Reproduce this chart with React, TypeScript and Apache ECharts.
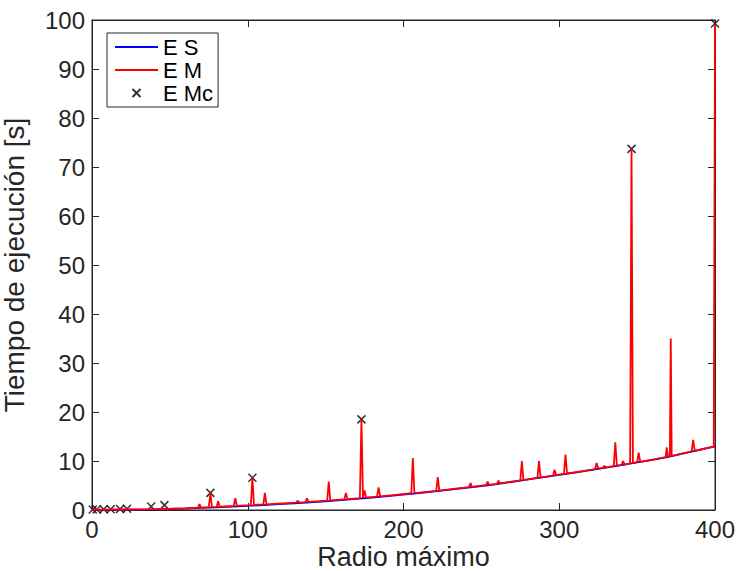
import React, { useEffect, useRef } from 'react';
import * as echarts from 'echarts';

// x-axis tick labels
const xTicks = [0, 100, 200, 300, 400];
const yTicks = [0, 10, 20, 30, 40, 50, 60, 70, 80, 90, 100];

// E S (blue, smooth curve)
const esX = [0, 10, 20, 30, 40, 50, 60, 70, 80, 90, 100, 110, 120, 130, 140, 150, 160, 170, 180, 190, 200,
  210, 220, 230, 240, 250, 260, 270, 280, 290, 300, 310, 320, 330, 340, 350, 360, 370, 380, 390, 400];
const esY = [0.02, 0.03, 0.05, 0.08, 0.12, 0.2, 0.3, 0.42, 0.55, 0.7, 0.85, 1.0, 1.18, 1.36, 1.56, 1.78, 2.02, 2.28, 2.55, 2.85, 3.15,
  3.45, 3.8, 4.15, 4.5, 4.9, 5.3, 5.75, 6.25, 6.7, 7.15, 7.65, 8.15, 8.65, 9.15, 9.7, 10.25, 10.85, 11.55, 12.25, 13.0];

// E M (red, with spikes)
const emPoints: [number, number][] = [
  [0, 0.05], [10, 0.06], [20, 0.1], [30, 0.13], [40, 0.18], [50, 0.26], [60, 0.36], [68, 0.46], [69, 1.2], [70, 0.48],
  [75, 0.56], [76, 3.5], [77, 0.58], [80, 0.63], [81, 1.8], [82, 0.66], [91, 0.82], [92, 2.4], [93, 0.84],
  [102, 1.0], [103, 6.6], [104, 1.02], [110, 1.13], [111, 3.5], [112, 1.16], [120, 1.3], [131, 1.5], [132, 1.9], [133, 1.53],
  [137, 1.62], [138, 2.4], [139, 1.64], [151, 1.92], [152, 5.8], [153, 1.95], [162, 2.17], [163, 3.5], [164, 2.22],
  [172, 2.42], [173, 18.5], [174, 2.47], [175, 4.0], [176, 2.52], [183, 2.72], [184, 4.6], [185, 2.76], [195, 3.07],
  [205, 3.42], [206, 10.6], [207, 3.46], [215, 3.72], [221, 3.92], [222, 6.7], [223, 3.97], [232, 4.3], [242, 4.67],
  [243, 5.5], [244, 4.72], [253, 5.07], [254, 5.8], [255, 5.12], [260, 5.35], [261, 6.0], [262, 5.42], [268, 5.72],
  [275, 6.05], [276, 10.0], [277, 6.1], [286, 6.55], [287, 10.0], [288, 6.6], [296, 7.0], [297, 8.2], [298, 7.1],
  [303, 7.35], [304, 11.3], [305, 7.45], [313, 7.85], [323, 8.35], [324, 9.6], [325, 8.45], [328, 8.6], [329, 9.0],
  [330, 8.7], [335, 8.95], [336, 13.8], [337, 9.0], [340, 9.2], [341, 10.0], [342, 9.25], [345.5, 9.5], [346.4, 73.7],
  [347.3, 9.55], [350, 9.75], [351, 11.7], [352, 9.8], [360, 10.3], [368.3, 10.8], [369, 12.8], [369.8, 10.9],
  [371, 10.95], [371.6, 35], [372.2, 11.0], [380, 11.6], [385, 11.95], [386, 14.3], [387, 12.05], [393, 12.5],
  [399.2, 12.95], [400, 99.3],
];

// E Mc (black x markers)
const emcPoints: [number, number][] = [
  [0.5, 0.1], [3, 0.1], [7.5, 0.15], [12, 0.15], [18, 0.2], [22.5, 0.25], [38, 0.7], [46.5, 1.0],
  [76, 3.5], [103, 6.6], [173, 18.5], [346.4, 73.7], [400, 99.3],
];

const FONT = '"Liberation Sans", Arial, Helvetica, sans-serif';
const AX = '#262626';
const X_SYMBOL = 'path://M-3,-3M0,0L8,8M8,0L0,8M11,11';
const LINE_ICON = 'path://M0,0H43V1.8H0Z';

export default function App() {
  const ref = useRef<HTMLDivElement>(null);
  useEffect(() => {
    document.body.style.margin = '0';
    const chart = echarts.init(ref.current!, null, { renderer: 'svg' });
    const axisCommon = {
      type: 'value' as const,
      axisLine: { show: true, onZero: false, lineStyle: { color: AX, width: 1 } },
      axisTick: { show: true, inside: true, length: 7, lineStyle: { color: AX, width: 1 } },
      splitLine: { show: false },
    };
    chart.setOption({
      animation: false,
      backgroundColor: '#ffffff',
      grid: {
        left: 92, right: 24, top: 20, bottom: 61,
        show: true, borderColor: AX, borderWidth: 1,
        containLabel: false, outerBoundsMode: 'none',
      },
      legend: {
        orient: 'vertical',
        left: 107,
        top: 33,
        itemWidth: 43,
        itemHeight: 14,
        itemGap: 1,
        padding: [3, 5, 3, 8],
        borderColor: AX,
        borderWidth: 1,
        backgroundColor: '#ffffff',
        textStyle: { fontSize: 22, color: '#000', fontFamily: FONT },
        data: [
          { name: 'E S', icon: LINE_ICON },
          { name: 'E M', icon: LINE_ICON },
          { name: 'E Mc' },
        ],
      },
      xAxis: [
        {
          ...axisCommon,
          min: 0, max: 400, interval: 100,
          axisLabel: { fontSize: 24, color: AX, margin: 7, fontFamily: FONT,
            formatter: (v: number) => (xTicks.includes(v) ? String(v) : '') },
          name: 'Radio máximo', nameLocation: 'middle', nameGap: 33, nameMoveOverlap: false,
          nameTextStyle: { fontSize: 27, color: AX, fontFamily: FONT },
        },
        {
          ...axisCommon, position: 'top',
          min: 0, max: 400, interval: 100,
          axisLabel: { show: false },
        },
      ],
      yAxis: [
        {
          ...axisCommon,
          min: 0, max: 100, interval: 10,
          axisLabel: { fontSize: 24, color: AX, margin: 7, fontFamily: FONT,
            formatter: (v: number) => (yTicks.includes(v) ? String(v) : '') },
          name: 'Tiempo de ejecución [s]', nameLocation: 'middle', nameGap: 64, nameMoveOverlap: false,
          nameTextStyle: { fontSize: 28, color: AX, fontFamily: FONT },
        },
        {
          ...axisCommon, position: 'right',
          min: 0, max: 100, interval: 10,
          axisLabel: { show: false },
        },
      ],
      series: [
        {
          name: 'E S', type: 'line', xAxisIndex: 0, yAxisIndex: 0,
          data: esX.map((x, i) => [x, esY[i]]),
          symbol: 'none', showSymbol: false,
          lineStyle: { color: '#0000ff', width: 1.8 },
          itemStyle: { color: '#0000ff' },
        },
        {
          name: 'E M', type: 'line', xAxisIndex: 0, yAxisIndex: 0,
          data: emPoints,
          symbol: 'none', showSymbol: false,
          lineStyle: { color: '#ff0000', width: 1.8 },
          itemStyle: { color: '#ff0000' },
        },
        {
          name: 'E Mc', type: 'scatter', xAxisIndex: 0, yAxisIndex: 0,
          data: emcPoints,
          symbol: X_SYMBOL, symbolSize: 14,
          itemStyle: { color: 'transparent', borderColor: '#000', borderWidth: 1.5 },
          clip: false,
        },
      ],
    });
    return () => chart.dispose();
  }, []);
  return <div ref={ref} style={{ width: 739, height: 571 }} />;
}
